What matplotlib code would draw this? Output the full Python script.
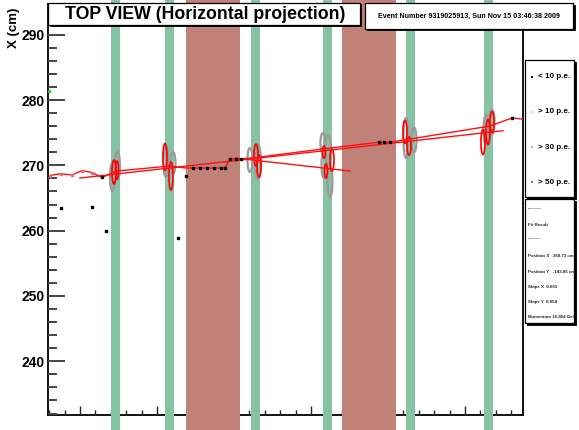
import matplotlib
matplotlib.use("Agg")
import matplotlib.pyplot as plt
from matplotlib.patches import Ellipse, Rectangle
from matplotlib.ticker import MultipleLocator, NullFormatter

plt.rcParams['font.family'] = ['Liberation Sans', 'DejaVu Sans']
plt.rcParams['font.weight'] = 'bold'

# ---------------- data ----------------
# horizontal axis: position along the beam (arbitrary units), vertical: X (cm)
x_range = (-4.11, 57.5)
y_range = (231.78, 294.7)

# tracker planes (green) and magnet blocks (brown) along the beam
tracker_planes = [(4.03, 5.19), (11.04, 12.17), (22.21, 23.38),
                  (31.56, 32.73), (42.34, 43.51), (52.47, 53.64)]
magnet_blocks = [(13.77, 20.78), (34.03, 41.04)]

# reconstructed trajectory through the hits
traj_u = [-3.90, -2.47, -1.04, 0.26, 1.56, 2.86, 4.81, 11.69, 13.77, 14.68,
          15.58, 16.49, 17.40, 18.31, 18.83, 19.48, 20.26, 20.91, 23.38,
          32.47, 38.83, 39.48, 40.26, 42.86, 53.25, 56.10, 57.40]
traj_x = [268.44, 268.72, 268.52, 269.21, 268.90, 268.14, 269.13, 269.90,
          269.59, 269.59, 269.59, 269.59, 269.59, 269.59, 269.59, 270.97,
          270.97, 270.97, 271.28, 272.65, 273.53, 273.53, 273.53, 274.03,
          276.02, 277.25, 277.09]

# straight-line fit segments
fit1_u = [0.0, 54.94]
fit1_x = [268.06, 275.30]
fit2_u = [20.13, 35.06]
fit2_x = [271.12, 269.13]

# hits below 10 p.e.
low_u = [-2.47, 1.56, 2.86, 3.38, 12.73, 13.77, 14.68, 15.58, 16.49, 17.40,
         18.31, 18.83, 19.48, 20.26, 20.91, 38.83, 39.48, 40.26, 56.10]
low_x = [263.47, 263.67, 268.14, 259.90, 258.92, 268.37, 269.59, 269.59,
         269.59, 269.59, 269.59, 269.59, 270.97, 270.97, 270.97, 273.53,
         273.53, 273.53, 277.25]

# small hits at the start of the trajectory
small_u = [-3.90, -2.47, -1.04, 0.26, 1.56]
small_x = [268.44, 268.72, 268.52, 269.21, 268.90]

# stray hit at the edge
edge_u = [-3.96]
edge_x = [281.43]

# hit clusters in the tracker planes: centre u, centre x, width, height
gray_u = [4.22, 4.87, 11.17, 12.08, 22.08, 23.12, 31.56, 32.21, 31.69, 32.47,
          42.34, 43.38, 52.73, 53.51]
gray_x = [268.21, 269.90, 270.51, 270.36, 270.82, 270.51, 273.42, 272.35,
          270.05, 267.45, 274.19, 273.88, 275.41, 276.63]
gray_w = [0.65, 0.65, 0.65, 0.65, 0.65, 0.78, 0.65, 0.78, 0.65, 0.65,
          0.65, 0.65, 0.65, 0.65]
gray_h = [4.29, 4.29, 4.59, 3.37, 3.67, 5.21, 3.06, 4.59, 3.98, 4.59,
          6.12, 3.83, 4.59, 3.83]

red_u = [4.42, 4.81, 11.04, 11.82, 22.86, 23.25, 31.69, 32.73, 31.95,
         42.21, 42.73, 52.34, 52.99, 53.51]
red_x = [268.98, 269.29, 271.28, 268.37, 271.58, 269.90, 272.04, 270.82,
         269.13, 275.10, 272.96, 273.57, 275.10, 276.63]
red_w = [0.52, 0.39, 0.52, 0.52, 0.52, 0.52, 0.39, 0.52, 0.39,
         0.52, 0.52, 0.52, 0.52, 0.52]
red_h = [3.67, 2.76, 4.13, 4.29, 3.37, 3.37, 1.84, 3.37, 2.14,
         3.52, 2.76, 3.83, 3.83, 3.21]

legend_labels = ["< 10 p.e.", "> 10 p.e.", "> 30 p.e.", "> 50 p.e."]
legend_colors = ["#000000", "#f2c48c", "#d8a894", "#e8484c"]

fit_lines = ["---------", "Fit Result", "---------",
             "Position X   268.73 cm", "Position Y   -143.85 cm",
             "Slope X  0.001", "Slope Y  0.054", "Momentum 16.864 GeV"]

title_text = "TOP VIEW (Horizontal projection)"
event_text = "Event Number 9319025913, Sun Nov 15 03:46:38 2009"

GREEN = "#86c3a5"
BROWN = "#c08178"

# ---------------- figure ----------------
W, H = 579, 430
fig = plt.figure(figsize=(W / 100, H / 100), dpi=100)
fig.patch.set_facecolor("white")


def fx(px):
    return px / W


def fy(py):
    return 1 - py / H


ax_l, ax_r, ax_t, ax_b = 48.3, 522.7, 4.0, 415.0
ax = fig.add_axes([fx(ax_l), fy(ax_b), fx(ax_r - ax_l), (ax_b - ax_t) / H])
ax.set_xlim(*x_range)
ax.set_ylim(*y_range)

for s in ax.spines.values():
    s.set_linewidth(1.3)
    s.set_zorder(1)
ax.xaxis.set_zorder(1)
ax.yaxis.set_zorder(1)

ax.yaxis.set_major_locator(MultipleLocator(10))
ax.yaxis.set_minor_locator(MultipleLocator(2))
ax.xaxis.set_major_locator(MultipleLocator(10))
ax.xaxis.set_minor_locator(MultipleLocator(2))
ax.xaxis.set_major_formatter(NullFormatter())
ax.tick_params(axis="y", which="major", direction="in", length=12.5, width=1.4,
               color="#444444", labelsize=10, pad=3)
ax.tick_params(axis="y", which="minor", direction="in", length=6.5, width=1.4,
               color="#444444")
ax.tick_params(axis="x", which="major", direction="in", length=6.5, width=1.0,
               color="#222222")
ax.tick_params(axis="x", which="minor", direction="in", length=3.5, width=1.0,
               color="#222222")
for lab in ax.get_yticklabels():
    lab.set_fontweight("bold")

# detector volumes, running across the whole picture height
ext_lo = -(H - ax_b) / (ax_b - ax_t) - 0.01
ext_hi = 1 + ax_t / (ax_b - ax_t) + 0.01
for a, b in tracker_planes:
    ax.axvspan(a, b, ymin=ext_lo, ymax=ext_hi, color=GREEN, lw=0,
               clip_on=False, zorder=3)
for a, b in magnet_blocks:
    ax.axvspan(a, b, ymin=ext_lo, ymax=ext_hi, color=BROWN, lw=0,
               clip_on=False, zorder=3)

# hit clusters
for u, x, w, h in zip(gray_u, gray_x, gray_w, gray_h):
    ax.add_patch(Ellipse((u, x), w, h, fill=False, edgecolor="#9a9a9a",
                         lw=1.6, zorder=5))
for u, x, w, h in zip(red_u, red_x, red_w, red_h):
    ax.add_patch(Ellipse((u, x), w, h, fill=False, edgecolor="#ff0000",
                         lw=1.2, zorder=6))

# trajectory and fits
ax.plot(traj_u, traj_x, color="#ff1010", lw=1.0, zorder=7, clip_on=False)
ax.plot(fit1_u, fit1_x, color="#ff1010", lw=1.0, zorder=7)
ax.plot(fit2_u, fit2_x, color="#ff1010", lw=1.0, zorder=7)
ax.plot(small_u, small_x, ls="none", marker="s", ms=1.4, color="#e07070",
        zorder=8, clip_on=False)
ax.plot(low_u, low_x, ls="none", marker="s", ms=1.5, color="black", zorder=8)
ax.plot(edge_u, edge_x, ls="none", marker="s", ms=1.6, color="#30c030",
        zorder=8, clip_on=False)


def box(x0, y0, x1, y1, shadow=2.0, z=10):
    fig.add_artist(Rectangle((fx(x0 + shadow), fy(y1 + shadow)),
                             fx(x1 - x0), (y1 - y0) / H,
                             facecolor="black", edgecolor="black", lw=0.6,
                             transform=fig.transFigure, zorder=z))
    fig.add_artist(Rectangle((fx(x0), fy(y1)), fx(x1 - x0), (y1 - y0) / H,
                             facecolor="white", edgecolor="black", lw=0.9,
                             transform=fig.transFigure, zorder=z + 0.1))


# title
box(48.3, 3.3, 360.0, 24.5, shadow=1.2)
fig.text(fx(205), fy(14.3), title_text, ha="center", va="center",
         fontsize=12.8, fontweight="bold", zorder=12)

# event header
box(365.0, 3.3, 573.0, 28.5, shadow=1.8)
fig.text(fx(469), fy(16.3), event_text, ha="center", va="center",
         fontsize=5.1, fontweight="bold", zorder=12)

# axis title
fig.text(fx(13.5), fy(28), "X (cm)", rotation=90, ha="center", va="center",
         fontsize=9.5, fontweight="bold")

# hit legend
box(525.0, 60.0, 574.0, 197.0, shadow=1.5)
leg_y = [76.7, 111.7, 147.3, 182.3]
for lab, col, y in zip(legend_labels, legend_colors, leg_y):
    fig.add_artist(Rectangle((fx(531.0), fy(y + 1.0)), fx(2.0), 2.0 / H,
                             facecolor=col, edgecolor="none",
                             transform=fig.transFigure, zorder=12))
    fig.text(fx(538.0), fy(y), lab, ha="left", va="center", fontsize=5.8,
             fontweight="bold", zorder=12)

# fit summary
box(525.0, 199.0, 574.0, 323.0, shadow=1.5)
fit_y = [208, 225, 238, 256, 272, 287, 302, 317]
for txt, y in zip(fit_lines, fit_y):
    fig.text(fx(527.5), fy(y), txt, ha="left", va="center", fontsize=3.2,
             fontweight="bold", zorder=12, color="#222222")

fig.savefig("out.png", dpi=100)
